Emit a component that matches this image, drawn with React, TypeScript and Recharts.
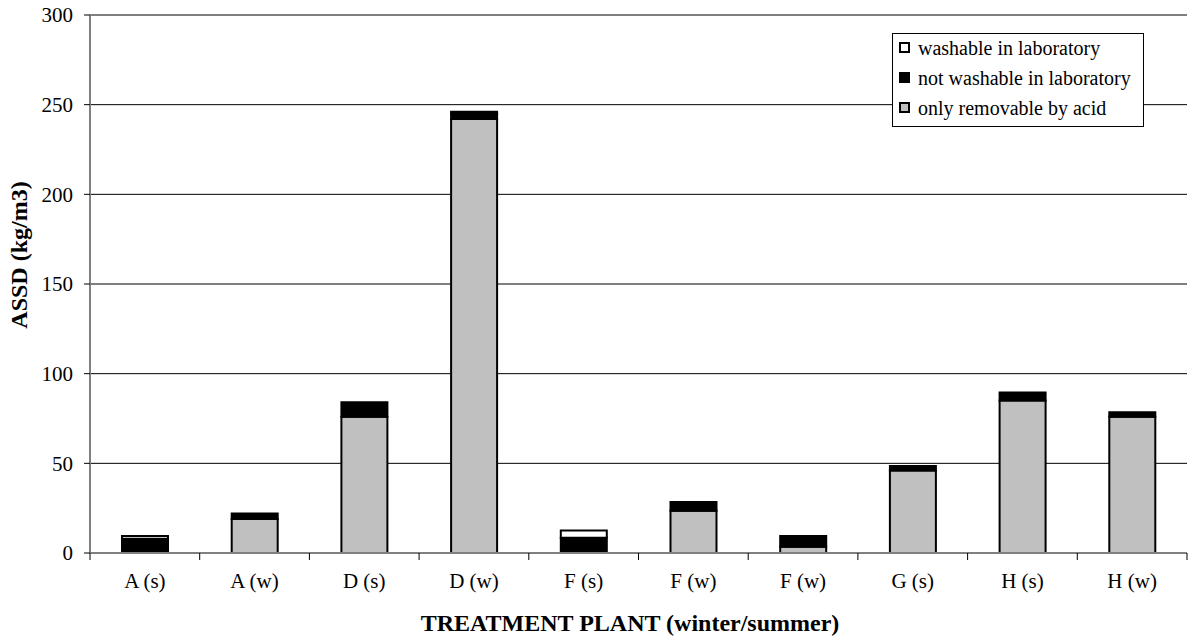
import { BarChart, Bar, XAxis, YAxis, CartesianGrid } from 'recharts'

const categories = ['A (s)', 'A (w)', 'D (s)', 'D (w)', 'F (s)', 'F (w)', 'F (w)', 'G (s)', 'H (s)', 'H (w)']
const acid = [1, 19, 76, 242, 0, 23.5, 3.5, 46, 85, 76]
const notWashable = [7, 3, 8, 3, 8.5, 5, 6, 2.5, 4.5, 2.5]
const washable = [1.5, 0, 0, 1, 4, 0, 0, 0, 0, 0]
const yTicks = [0, 50, 100, 150, 200, 250, 300]

const series = [
  { key: 'washable', label: 'washable in laboratory', color: '#ffffff' },
  { key: 'notWashable', label: 'not washable in laboratory', color: '#000000' },
  { key: 'acid', label: 'only removable by acid', color: '#c0c0c0' },
]

const data = categories.map((name, i) => ({
  name,
  acid: acid[i],
  notWashable: notWashable[i],
  washable: washable[i],
}))

const FONT = '"Liberation Serif", "Times New Roman", serif'
const BAND = 1097 / categories.length

function XTick(props: any) {
  const { x, y, payload, index } = props
  const last = index === categories.length - 1
  return (
    <g>
      <line x1={x - BAND / 2} x2={x - BAND / 2} y1={y} y2={y + 7} stroke="#000" />
      {last && <line x1={x + BAND / 2} x2={x + BAND / 2} y1={y} y2={y + 7} stroke="#000" />}
      <text x={x} y={y + 35} textAnchor="middle" fontSize={21} fontFamily={FONT} fill="#000">
        {payload.value}
      </text>
    </g>
  )
}

// legend box drawn in its own svg on top of the chart
function LegendBox() {
  return (
    <svg width={254} height={96} style={{ position: 'absolute', left: 891, top: 32 }}>
      <rect x={1.5} y={1.5} width={251} height={93} fill="#fff" stroke="#000" strokeWidth={1} />
      {series.map((s, i) => (
        <g key={s.key} transform={`translate(0, ${i * 30})`}>
          <rect x={9} y={11} width={9} height={9} fill={s.color} stroke="#000" strokeWidth={2} />
          <text x={27} y={23} fontSize={20} fontFamily={FONT} fill="#000">
            {s.label}
          </text>
        </g>
      ))}
    </svg>
  )
}

export default function App() {
  return (
    <div style={{ position: 'absolute', left: 0, top: 0, width: 1189, height: 639, background: '#fff' }}>
      <BarChart width={1189} height={639} data={data} margin={{ top: 15, right: 2, left: 0, bottom: 0 }}>
        <CartesianGrid vertical={false} stroke="#000" strokeWidth={1} />
        <XAxis
          dataKey="name"
          height={86}
          axisLine={{ stroke: '#808080', strokeWidth: 2 }}
          tickLine={false}
          tickSize={0}
          tickMargin={0}
          interval={0}
          tick={<XTick />}
          label={{
            content: () => (
              <text x={630} y={631} textAnchor="middle" fontSize={24} fontWeight="bold" fontFamily={FONT} fill="#000">
                TREATMENT PLANT (winter/summer)
              </text>
            ),
          }}
        />
        <XAxis xAxisId="top" dataKey="name" orientation="top" height={0} tick={false} tickLine={false} axisLine={{ stroke: '#808080', strokeWidth: 2 }} />
        <YAxis
          width={90}
          domain={[0, 300]}
          ticks={yTicks}
          interval={0}
          tickSize={6}
          tickMargin={11}
          axisLine={{ stroke: '#808080', strokeWidth: 2 }}
          tickLine={{ stroke: '#000' }}
          tick={{ fontSize: 21, fontFamily: FONT, fill: '#000' }}
          label={{
            content: () => (
              <text
                x={27}
                y={255}
                transform="rotate(-90 27 255)"
                textAnchor="middle"
                fontSize={24}
                fontWeight="bold"
                fontFamily={FONT}
                fill="#000"
              >
                ASSD (kg/m3)
              </text>
            ),
          }}
        />
        <YAxis yAxisId="right" orientation="right" width={0} domain={[0, 300]} tick={false} tickLine={false} axisLine={{ stroke: '#808080', strokeWidth: 2 }} />
        <Bar dataKey="acid" stackId="s" fill="#c0c0c0" stroke="#000" strokeWidth={2} barSize={46} isAnimationActive={false} />
        <Bar dataKey="notWashable" stackId="s" fill="#000" stroke="#000" strokeWidth={2} barSize={46} isAnimationActive={false} />
        <Bar dataKey="washable" stackId="s" fill="#fff" stroke="#000" strokeWidth={2} barSize={46} isAnimationActive={false} />
      </BarChart>
      <LegendBox />
    </div>
  )
}
